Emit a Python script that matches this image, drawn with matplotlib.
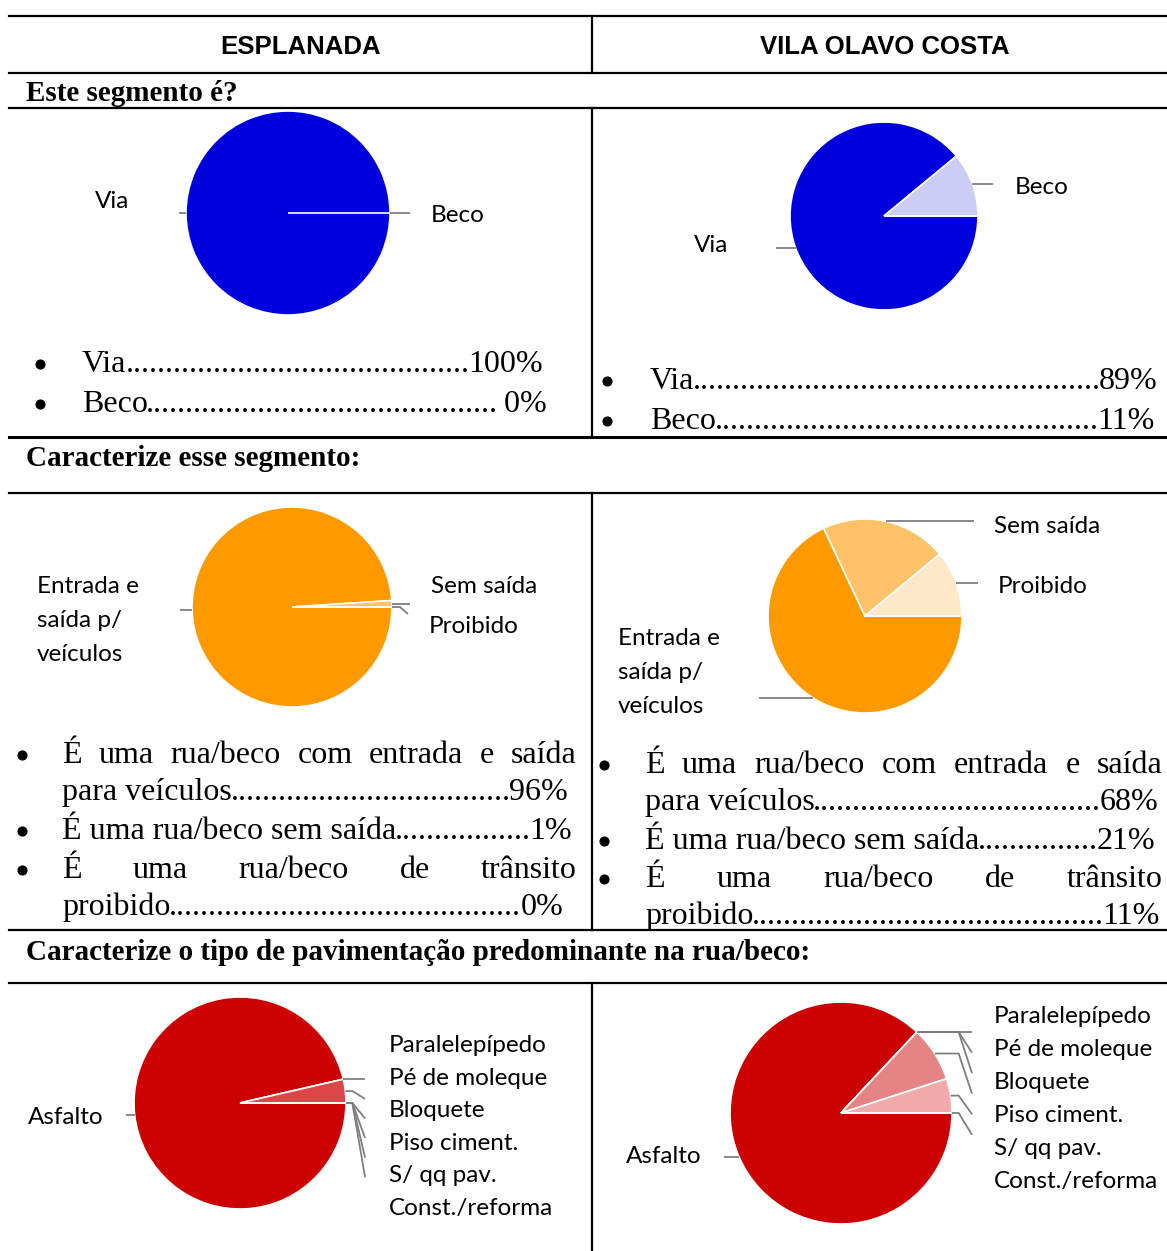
import matplotlib
matplotlib.use("Agg")
import matplotlib.pyplot as plt
import numpy as np

W, H = 1167, 1251

# column headers and question rows
columns = ["ESPLANADA", "VILA OLAVO COSTA"]
questions = ["Este segmento é?", "Caracterize esse segmento:",
             "Caracterize o tipo de pavimentação predominante na rua/beco:"]

# question 1: type of segment
segment_labels = ["Via", "Beco"]
segment_esplanada = [100, 0]
segment_vila = [89, 11]
segment_colors = ["#0000DD", "#CCCCF5"]

# question 2: access
access_labels = ["Entrada e\nsaída p/\nveículos", "Sem saída", "Proibido"]
access_esplanada = [96, 1, 0]
access_vila = [68, 21, 11]
access_colors = ["#FF9900", "#FFC266", "#FFE8C7"]
access_items = [["É uma rua/beco com entrada e saída", "para veículos"],
                ["É uma rua/beco sem saída"],
                ["É uma rua/beco de trânsito", "proibido"]]

# question 3: paving
paving_labels = ["Asfalto", "Paralelepípedo", "Pé de moleque", "Bloquete",
                 "Piso ciment.", "S/ qq pav.", "Const./reforma"]
paving_esplanada = [96.4, 0, 3.6, 0, 0, 0, 0]
paving_vila = [87, 0, 0, 0, 8, 5, 0]
paving_colors = ["#CC0000", "#D42A2A", "#DC4646", "#E06666",
                 "#E58484", "#F0AAAA", "#F7D3D3"]

fig = plt.figure(figsize=(W / 100, H / 100), dpi=100)
ax = fig.add_axes([0, 0, 1, 1])
renderer = fig.canvas.get_renderer()


def lock():
    # pixel coordinates, y running downwards
    ax.set_aspect("auto")
    ax.set_xlim(0, W)
    ax.set_ylim(H, 0)


lock()

body = dict(fontfamily="Liberation Serif", fontsize=23, va="baseline", color="black")
title = dict(fontfamily="Liberation Serif", fontsize=21, fontweight="bold", va="baseline")
header = dict(fontfamily="Liberation Sans", fontsize=18.5, fontweight="bold", va="baseline", ha="center")
lab = dict(fontfamily="Lato", fontsize=17.5, va="baseline", color="black")
lead = dict(color="#7F7F7F", lw=1.3, solid_capstyle="butt")

# table rules
for y in [16, 73, 108, 493, 930, 983]:
    ax.plot([9, W], [y, y], color="black", lw=1.6)
ax.plot([9, W], [437, 437], color="black", lw=2.2)
for y0, y1 in [(16, 73), (108, 437), (493, 930), (983, H)]:
    ax.plot([592, 592], [y0, y1], color="black", lw=1.6)

ax.text(301, 54, columns[0], **header)
ax.text(885, 54, columns[1], **header)
for q, y in zip(questions, [101, 466, 960]):
    ax.text(26, y, q, **title)


def width(t):
    return t.get_window_extent(renderer).width


def dotted(left, right, x0, x1, y):
    a = ax.text(x0, y, left, ha="left", **body)
    b = ax.text(x1, y, right, ha="right", **body)
    start = a.get_window_extent(renderer).x1
    end = b.get_window_extent(renderer).x0
    probe = ax.text(0, 0, "." * 40, **body)
    dw = width(probe) / 40
    probe.remove()
    n = int(round((end - start) / dw))
    ax.text((start + end) / 2, y, "." * n, ha="center", **body)


def justified(line, x0, x1, y):
    words = line.split()
    texts = [ax.text(0, y, w, ha="left", **body) for w in words]
    ws = [width(t) for t in texts]
    gap = (x1 - x0 - sum(ws)) / (len(words) - 1)
    x = x0
    for t, w in zip(texts, ws):
        t.set_x(x)
        x += w + gap


def bullet(x, y):
    ax.plot(x, y - 8.5, "o", ms=6.3, color="black")


def pct(v):
    return f"{v:g}%"


def draw_pie(values, colors, cx, cy, r):
    wedges, _ = ax.pie(values, colors=colors, center=(cx, cy), radius=r,
                       startangle=0, counterclock=True, frame=True,
                       wedgeprops=dict(edgecolor="white", linewidth=1.2))
    lock()
    mids = []
    for w in wedges:
        a = np.deg2rad((w.theta1 + w.theta2) / 2)
        mids.append((cx + r * np.cos(a), cy + r * np.sin(a)))
    return mids


def leader(pt, x_end, bend=0):
    xs = [pt[0], x_end]
    ys = [pt[1], pt[1]]
    if bend:
        xs.append(x_end + 8)
        ys.append(pt[1] + bend)
    ax.plot(xs, ys, **lead)


# ---- row 1: Via / Beco
m = draw_pie(segment_esplanada, segment_colors, 288, 213, 102)
leader(m[0], 179)
leader(m[1], 410)
ax.text(95, 208, segment_labels[0], **lab)
ax.text(431, 222, segment_labels[1], **lab)

m = draw_pie(segment_vila, segment_colors, 884, 216, 94)
leader(m[0], 776)
leader(m[1], 993)
ax.text(694, 252, segment_labels[0], **lab)
ax.text(1015, 194, segment_labels[1], **lab)

for i, (name, v) in enumerate(zip(segment_labels, segment_esplanada)):
    y = [372, 412][i]
    bullet(40, y)
    dotted(name, (" " if v < 10 else "") + pct(v), 82, [543, 547][i], y)
for i, (name, v) in enumerate(zip(segment_labels, segment_vila)):
    y = [389, 429][i]
    bullet(607, y)
    dotted(name, pct(v), 650, [1158, 1155][i], y)

# ---- row 2: access
m = draw_pie(access_esplanada, access_colors, 292, 607, 100)
leader(m[0], 180)
leader(m[1], 410)
leader(m[2], 400, bend=7)
for k, line in enumerate(access_labels[0].split("\n")):
    ax.text(37, 593 + 34 * k, line, **lab)
ax.text(431, 593, access_labels[1], **lab)
ax.text(429, 633, access_labels[2], **lab)

m = draw_pie(access_vila, access_colors, 865, 616, 97)
leader(m[0], 759)
leader(m[1], 974)
leader(m[2], 978)
for k, line in enumerate(access_labels[0].split("\n")):
    ax.text(618, 645 + 34 * k, line, **lab)
ax.text(994, 533, access_labels[1], **lab)
ax.text(998, 593, access_labels[2], **lab)


def access_list(values, xb, x0, rights, ys):
    y = iter(ys)
    r = iter(rights)
    for item, v in zip(access_items, values):
        yy = next(y)
        bullet(xb, yy)
        if len(item) == 2:
            justified(item[0], x0, next(r), yy)
            dotted(item[1], pct(v), x0, next(r), next(y))
        else:
            dotted(item[0], pct(v), x0, next(r), yy)


access_list(access_esplanada, 22, 62, [577, 568, 572, 577, 563],
            [763, 800, 839, 878, 915])
access_list(access_vila, 604, 645, [1163, 1158, 1155, 1163, 1160],
            [773, 810, 849, 887, 924])

# ---- row 3: paving


def paving_pie(values, cx, cy, r, asf_end, asf_xy, lab_x, lab_y0, step):
    wedges, _ = ax.pie(values, colors=paving_colors, center=(cx, cy), radius=r,
                       startangle=0, counterclock=True, frame=True,
                       wedgeprops=dict(edgecolor="white", linewidth=1.2))
    lock()
    pts = []
    for w in wedges:
        a = np.deg2rad((w.theta1 + w.theta2) / 2)
        pts.append((cx + r * np.cos(a), cy + r * np.sin(a)))
    leader(pts[0], asf_end)
    ax.text(*asf_xy, paving_labels[0], **lab)
    y_first = pts[1][1]
    knee = cx + 1.06 * r
    for k, p in enumerate(pts[1:]):
        kx = max(knee, p[0] + 2)
        ax.plot([p[0], kx, cx + 1.18 * r], [p[1], p[1], y_first + k * 0.185 * r], **lead)
    for k, name in enumerate(paving_labels[1:]):
        ax.text(lab_x, lab_y0 + k * step, name, **lab)


paving_pie(paving_esplanada, 240, 1103, 106, 126, (28, 1124), 389, 1052, 32.6)
paving_pie(paving_vila, 841, 1113, 111, 724, (626, 1163), 994, 1023, 33)

lock()
ax.axis("off")
fig.savefig("out.png", dpi=100)
